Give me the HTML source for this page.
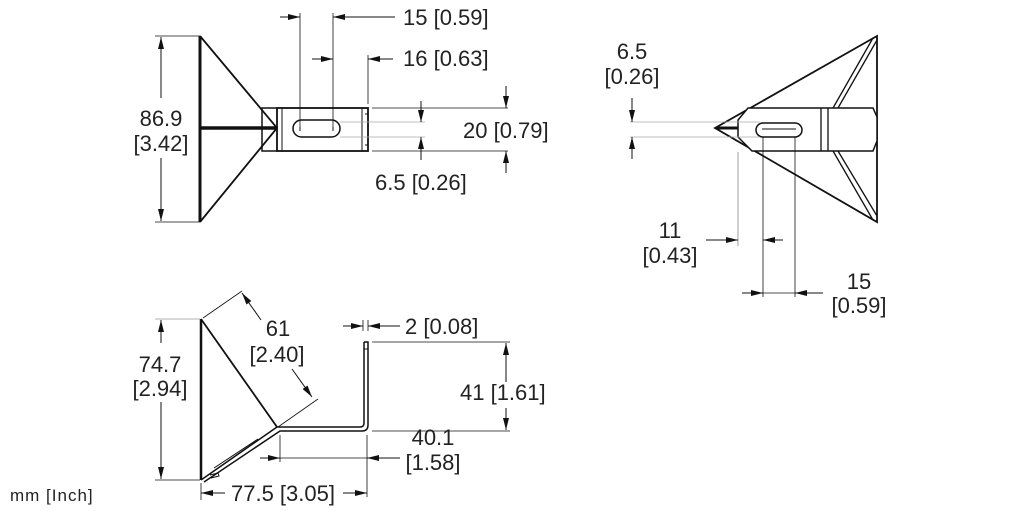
<!DOCTYPE html>
<html><head><meta charset="utf-8"><style>
html,body{margin:0;padding:0;background:#fff;}
svg{display:block;}
text{font-family:"Liberation Sans",sans-serif;font-size:22px;fill:#222;}
</style></head><body>
<svg width="1022" height="511" viewBox="0 0 1022 511" xmlns="http://www.w3.org/2000/svg">
<defs>
<marker id="a" viewBox="0 0 12 6" refX="12" refY="3" markerWidth="12" markerHeight="6" orient="auto-start-reverse" markerUnits="userSpaceOnUse"><path d="M0,0 L12,3 L0,6 z" fill="#111"/></marker>
</defs>
<g stroke="#111" fill="none" stroke-width="1">
<line x1="200" y1="36" x2="200" y2="222" stroke-width="3"/>
<polyline points="200,36 277,128 200,222" stroke-width="1.8"/>
<line x1="200" y1="128" x2="277" y2="128" stroke-width="3.5"/>
<polyline points="277,108 262,108 262,151 277,151" stroke-width="1.5"/>
<rect x="277" y="108" width="91" height="43" stroke-width="1.8"/>
<line x1="282" y1="108" x2="282" y2="151"/>
<line x1="362" y1="108" x2="362" y2="151"/>
<line x1="365" y1="114" x2="368" y2="114"/><line x1="365" y1="145" x2="368" y2="145"/>
<rect x="293" y="120" width="47" height="17" rx="8.5" stroke-width="1.5"/>
<line x1="300" y1="127" x2="300" y2="131" stroke-width="1"/><line x1="333" y1="127" x2="333" y2="131"/>
<line x1="155" y1="36" x2="200" y2="36" stroke-width=".8"/>
<line x1="155" y1="222" x2="200" y2="222" stroke-width=".8"/>
<line x1="161" y1="98" x2="161" y2="37" marker-end="url(#a)"/>
<line x1="161" y1="158" x2="161" y2="221" marker-end="url(#a)"/>
<line x1="300" y1="13" x2="300" y2="128" stroke-width=".8"/>
<line x1="333" y1="13" x2="333" y2="128" stroke-width=".8"/>
<line x1="280" y1="17" x2="300" y2="17" marker-end="url(#a)"/>
<line x1="395" y1="17" x2="333" y2="17" marker-end="url(#a)"/>
<line x1="368" y1="55" x2="368" y2="104" stroke-width=".8"/>
<line x1="312" y1="59" x2="333" y2="59" marker-end="url(#a)"/>
<line x1="393" y1="59" x2="368" y2="59" marker-end="url(#a)"/>
<line x1="372" y1="108" x2="508" y2="108" stroke-width=".8"/>
<line x1="372" y1="151" x2="508" y2="151" stroke-width=".8"/>
<line x1="506" y1="86" x2="506" y2="108" marker-end="url(#a)"/>
<line x1="506" y1="173" x2="506" y2="151" marker-end="url(#a)"/>
<line x1="340" y1="122" x2="425" y2="122" stroke="#aaa" stroke-width=".8"/>
<line x1="340" y1="137" x2="425" y2="137" stroke="#aaa" stroke-width=".8"/>
<line x1="421" y1="101" x2="421" y2="122" marker-end="url(#a)"/>
<line x1="421" y1="160" x2="421" y2="137" marker-end="url(#a)"/>

<line x1="201" y1="319" x2="201" y2="480" stroke-width="2.5"/>
<line x1="201" y1="319" x2="277" y2="427" stroke-width="1.8"/>
<path d="M201,480 L277,427 L360,427 Q364,427 364,423 L364,342" stroke-width="1.5"/>
<path d="M204,482 L280,431 L362,431 Q368,431 368,425 L368,342 L364,342" stroke-width="1.5"/>
<line x1="364" y1="349" x2="368" y2="349"/>
<line x1="214" y1="468" x2="258" y2="439" stroke-width="1"/>
<polyline points="210,475 218,473 219,476 211,478" stroke-width="1"/>
<line x1="155" y1="319" x2="200" y2="319" stroke="#999" stroke-width=".8"/>
<line x1="155" y1="480" x2="200" y2="480" stroke-width=".8"/>
<line x1="161" y1="343" x2="161" y2="320" marker-end="url(#a)"/>
<line x1="161" y1="402" x2="161" y2="479" marker-end="url(#a)"/>
<line x1="203" y1="318" x2="242" y2="291" stroke-width=".8"/>
<line x1="278" y1="427" x2="318" y2="399" stroke-width=".8"/>
<line x1="261" y1="320" x2="242" y2="293" marker-end="url(#a)"/>
<line x1="292" y1="369" x2="312" y2="397" marker-end="url(#a)"/>
<line x1="363" y1="320" x2="363" y2="331" stroke-width=".8"/>
<line x1="368" y1="320" x2="368" y2="331" stroke-width=".8"/>
<line x1="343" y1="326" x2="363" y2="326" marker-end="url(#a)"/>
<line x1="400" y1="326" x2="368" y2="326" marker-end="url(#a)"/>
<line x1="372" y1="342" x2="510" y2="342" stroke-width=".8"/>
<line x1="372" y1="431" x2="510" y2="431" stroke-width=".8"/>
<line x1="506" y1="382" x2="506" y2="343" marker-end="url(#a)"/>
<line x1="506" y1="408" x2="506" y2="430" marker-end="url(#a)"/>
<line x1="280" y1="435" x2="280" y2="462" stroke-width=".8"/>
<line x1="367" y1="435" x2="367" y2="497" stroke-width=".8"/>
<line x1="260" y1="458" x2="280" y2="458" marker-end="url(#a)"/>
<line x1="280" y1="458" x2="367" y2="458" stroke-width=".8"/>
<line x1="400" y1="458" x2="367" y2="458" marker-end="url(#a)"/>
<line x1="201" y1="483" x2="201" y2="500" stroke-width=".8"/>
<line x1="225" y1="493" x2="201" y2="493" marker-end="url(#a)"/>
<line x1="343" y1="493" x2="367" y2="493" marker-end="url(#a)"/>

<polygon points="715,128 877,36 877,222" stroke-width="1.8"/>
<line x1="873" y1="38" x2="833" y2="108" stroke-width="1.3"/>
<line x1="877" y1="40" x2="838" y2="108" stroke-width="1.3"/>
<line x1="873" y1="220" x2="833" y2="151" stroke-width="1.3"/>
<line x1="877" y1="216" x2="838" y2="151" stroke-width="1.3"/>
<path d="M748,108 L873,108 L877,117 L877,141 L873,151 L752,151 L738,137 L738,120 Z" fill="#fff" stroke-width="1.5"/>
<line x1="821" y1="108" x2="821" y2="151" stroke-width="1.3"/>
<line x1="828" y1="108" x2="828" y2="151" stroke-width="1.3"/>
<rect x="756" y="123" width="46" height="14" rx="7" stroke-width="1.5"/>
<line x1="762" y1="129" x2="796" y2="129" stroke-width="1"/>
<line x1="716" y1="128" x2="738" y2="128" stroke-width="3"/>
<line x1="630" y1="122" x2="760" y2="122" stroke="#aaa" stroke-width=".8"/>
<line x1="630" y1="137" x2="760" y2="137" stroke="#aaa" stroke-width=".8"/>
<line x1="632" y1="98" x2="632" y2="122" marker-end="url(#a)"/>
<line x1="632" y1="159" x2="632" y2="137" marker-end="url(#a)"/>
<line x1="738" y1="152" x2="738" y2="246" stroke="#888" stroke-width=".8"/>
<line x1="763" y1="137" x2="763" y2="297" stroke-width=".8"/>
<line x1="706" y1="240" x2="738" y2="240" marker-end="url(#a)"/>
<line x1="783" y1="240" x2="763" y2="240" marker-end="url(#a)"/>
<line x1="795" y1="137" x2="795" y2="297" stroke-width=".8"/>
<line x1="742" y1="293" x2="763" y2="293" marker-end="url(#a)"/>
<line x1="763" y1="293" x2="795" y2="293" stroke-width=".8"/>
<line x1="823" y1="293" x2="795" y2="293" marker-end="url(#a)"/>
</g>
<g>
<text x="403" y="25">15 [0.59]</text>
<text x="403" y="66">16 [0.63]</text>
<text x="463" y="138">20 [0.79]</text>
<text x="375" y="190">6.5 [0.26]</text>
<text x="161" y="126" text-anchor="middle">86.9</text>
<text x="161" y="151" text-anchor="middle">[3.42]</text>
<text x="278" y="336" text-anchor="middle">61</text>
<text x="277" y="362" text-anchor="middle">[2.40]</text>
<text x="160" y="372" text-anchor="middle">74.7</text>
<text x="160" y="396" text-anchor="middle">[2.94]</text>
<text x="405" y="334">2 [0.08]</text>
<text x="460" y="400">41 [1.61]</text>
<text x="433" y="445" text-anchor="middle">40.1</text>
<text x="433" y="470" text-anchor="middle">[1.58]</text>
<text x="231" y="501">77.5 [3.05]</text>
<text x="632" y="59" text-anchor="middle">6.5</text>
<text x="632" y="84" text-anchor="middle">[0.26]</text>
<text x="670" y="238" text-anchor="middle">11</text>
<text x="670" y="263" text-anchor="middle">[0.43]</text>
<text x="859" y="289" text-anchor="middle">15</text>
<text x="859" y="313" text-anchor="middle">[0.59]</text>
<text x="10" y="501" style="font-size:17px;letter-spacing:1px">mm [Inch]</text>
</g>
</svg>
</body></html>
